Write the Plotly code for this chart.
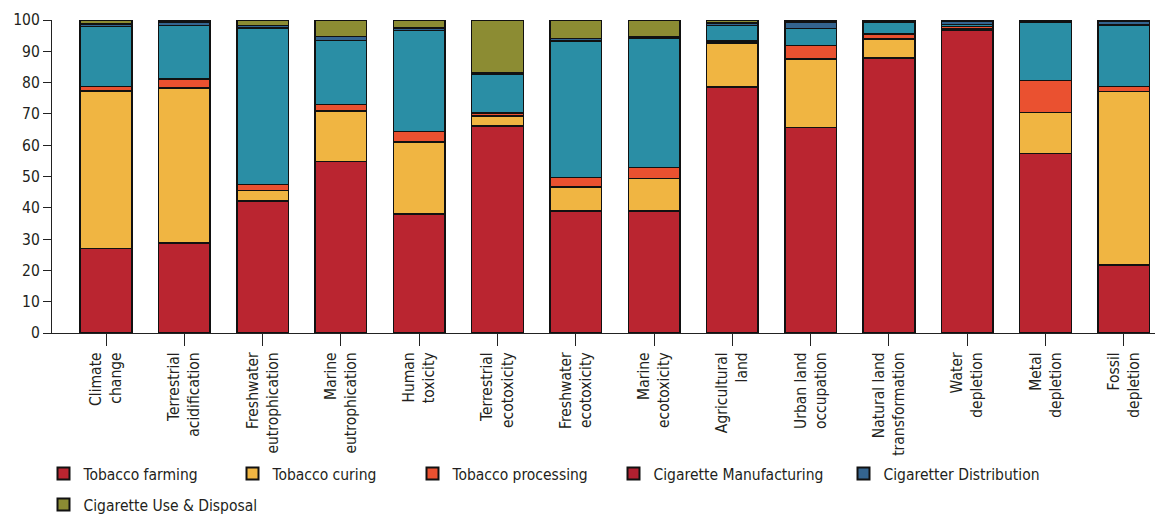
import plotly.graph_objects as go

categories = ["Climate change", "Terrestrial acidification", "Freshwater eutrophication",
              "Marine eutrophication", "Human toxicity", "Terrestrial ecotoxicity",
              "Freshwater ecotoxicity", "Marine ecotoxicity", "Agricultural land",
              "Urban land occupation", "Natural land transformation", "Water depletion",
              "Metal depletion", "Fossil depletion"]
tick_labels = ["Climate<br>change", "Terrestrial<br>acidification", "Freshwater<br>eutrophication",
               "Marine<br>eutrophication", "Human<br>toxicity", "Terrestrial<br>ecotoxicity",
               "Freshwater<br>ecotoxicity", "Marine<br>ecotoxicity", "Agricultural<br>land",
               "Urban land<br>occupation", "Natural land<br>transformation", "Water<br>depletion",
               "Metal<br>depletion", "Fossil<br>depletion"]

tobacco_farming = [27.0, 28.7, 42.2, 54.8, 38.0, 66.2, 39.0, 39.0, 78.6, 65.7, 87.9, 96.6, 57.3, 21.7]
tobacco_curing = [50.3, 49.6, 3.3, 16.2, 23.0, 3.2, 7.7, 10.3, 14.0, 21.9, 6.1, 0.5, 13.2, 55.4]
tobacco_processing = [1.4, 2.8, 2.0, 2.0, 3.3, 0.9, 3.0, 3.5, 0.7, 4.2, 1.6, 0.8, 10.1, 1.6]
cigarette_manufacturing = [19.2, 17.2, 50.0, 20.5, 32.3, 12.5, 43.6, 41.4, 4.9, 5.5, 3.7, 0.7, 18.7, 19.7]
cigarette_distribution = [0.8, 1.1, 0.8, 1.2, 0.8, 0.3, 0.8, 0.5, 0.9, 2.0, 0.5, 1.0, 0.4, 1.1]
cigarette_use = [1.3, 0.6, 1.7, 5.3, 2.6, 16.9, 5.9, 5.3, 0.9, 0.7, 0.2, 0.4, 0.3, 0.5]

series_names = ["Tobacco farming", "Tobacco curing", "Tobacco processing",
                "Cigarette Manufacturing", "Cigaretter Distribution", "Cigarette Use & Disposal"]
series_values = [tobacco_farming, tobacco_curing, tobacco_processing,
                 cigarette_manufacturing, cigarette_distribution, cigarette_use]
bar_colors = ["#BA2530", "#F0B542", "#EA5130", "#2A8EA5", "#34648F", "#8C8C33"]
legend_colors = ["#BA2530", "#F0B542", "#EA5130", "#B22030", "#34648F", "#8C8C33"]

FONT = "DejaVu Sans Condensed, Liberation Sans Narrow, sans-serif"
TXT = "#231f20"
FS = 15.5

# page has 8px body margin: figure is sized/offset to compensate
W, H = 1155, 507
OFF = 8

fig = go.Figure()
for name, vals, col in zip(series_names, series_values, bar_colors):
    fig.add_trace(go.Bar(x=categories, y=vals, name=name, showlegend=False,
                         marker=dict(color=col, line=dict(color="#111111", width=1.5)),
                         hovertemplate="%{x}: %{y}<extra>" + name + "</extra>"))

# legend entries (page pixel positions of marker left edge and row centre)
legend_pos = [(57, 474), (246, 474), (426, 474), (627, 474), (857, 474), (57, 505)]
layout_legends = {}
for i, (name, col, (px, py)) in enumerate(zip(series_names, legend_colors, legend_pos)):
    key = "legend" if i == 0 else f"legend{i + 1}"
    fig.add_trace(go.Bar(x=[None], y=[None], name=name, showlegend=True, legend=key,
                         marker=dict(color=col, line=dict(color="#111111", width=1.5))))
    layout_legends[key] = dict(
        orientation="h", xref="container", yref="container",
        x=(px - 13.5 - OFF) / W, xanchor="left",
        y=1 - (py - OFF) / H, yanchor="middle",
        font=dict(family=FONT, size=FS, color=TXT),
        bgcolor="rgba(0,0,0,0)", itemsizing="constant")

fig.update_layout(
    barmode="stack",
    bargap=0.34,
    width=W, height=H,
    margin=dict(l=52 - OFF, r=0, t=20 - OFF, b=H - (333 - OFF), autoexpand=False),
    paper_bgcolor="white", plot_bgcolor="white",
    font=dict(family=FONT, size=FS, color=TXT),
    xaxis=dict(type="category", categoryorder="array", categoryarray=categories,
               tickmode="array", tickvals=categories, ticktext=tick_labels,
               tickangle=-90, range=[-0.69, 13.5], automargin=False,
               showline=True, linecolor="#222", linewidth=1.2,
               ticks="outside", ticklen=12, tickcolor="#222", tickwidth=1.2,
               showgrid=False, tickfont=dict(size=FS)),
    yaxis=dict(range=[0, 100], tickvals=[0, 10, 20, 30, 40, 50, 60, 70, 80, 90, 100],
               automargin=False,
               showline=True, linecolor="#222", linewidth=1.2,
               ticks="outside", ticklen=8, tickcolor="#222", tickwidth=1.2,
               showgrid=False, zeroline=False, tickfont=dict(size=FS)),
    **layout_legends,
)

fig.write_html("out.html")
